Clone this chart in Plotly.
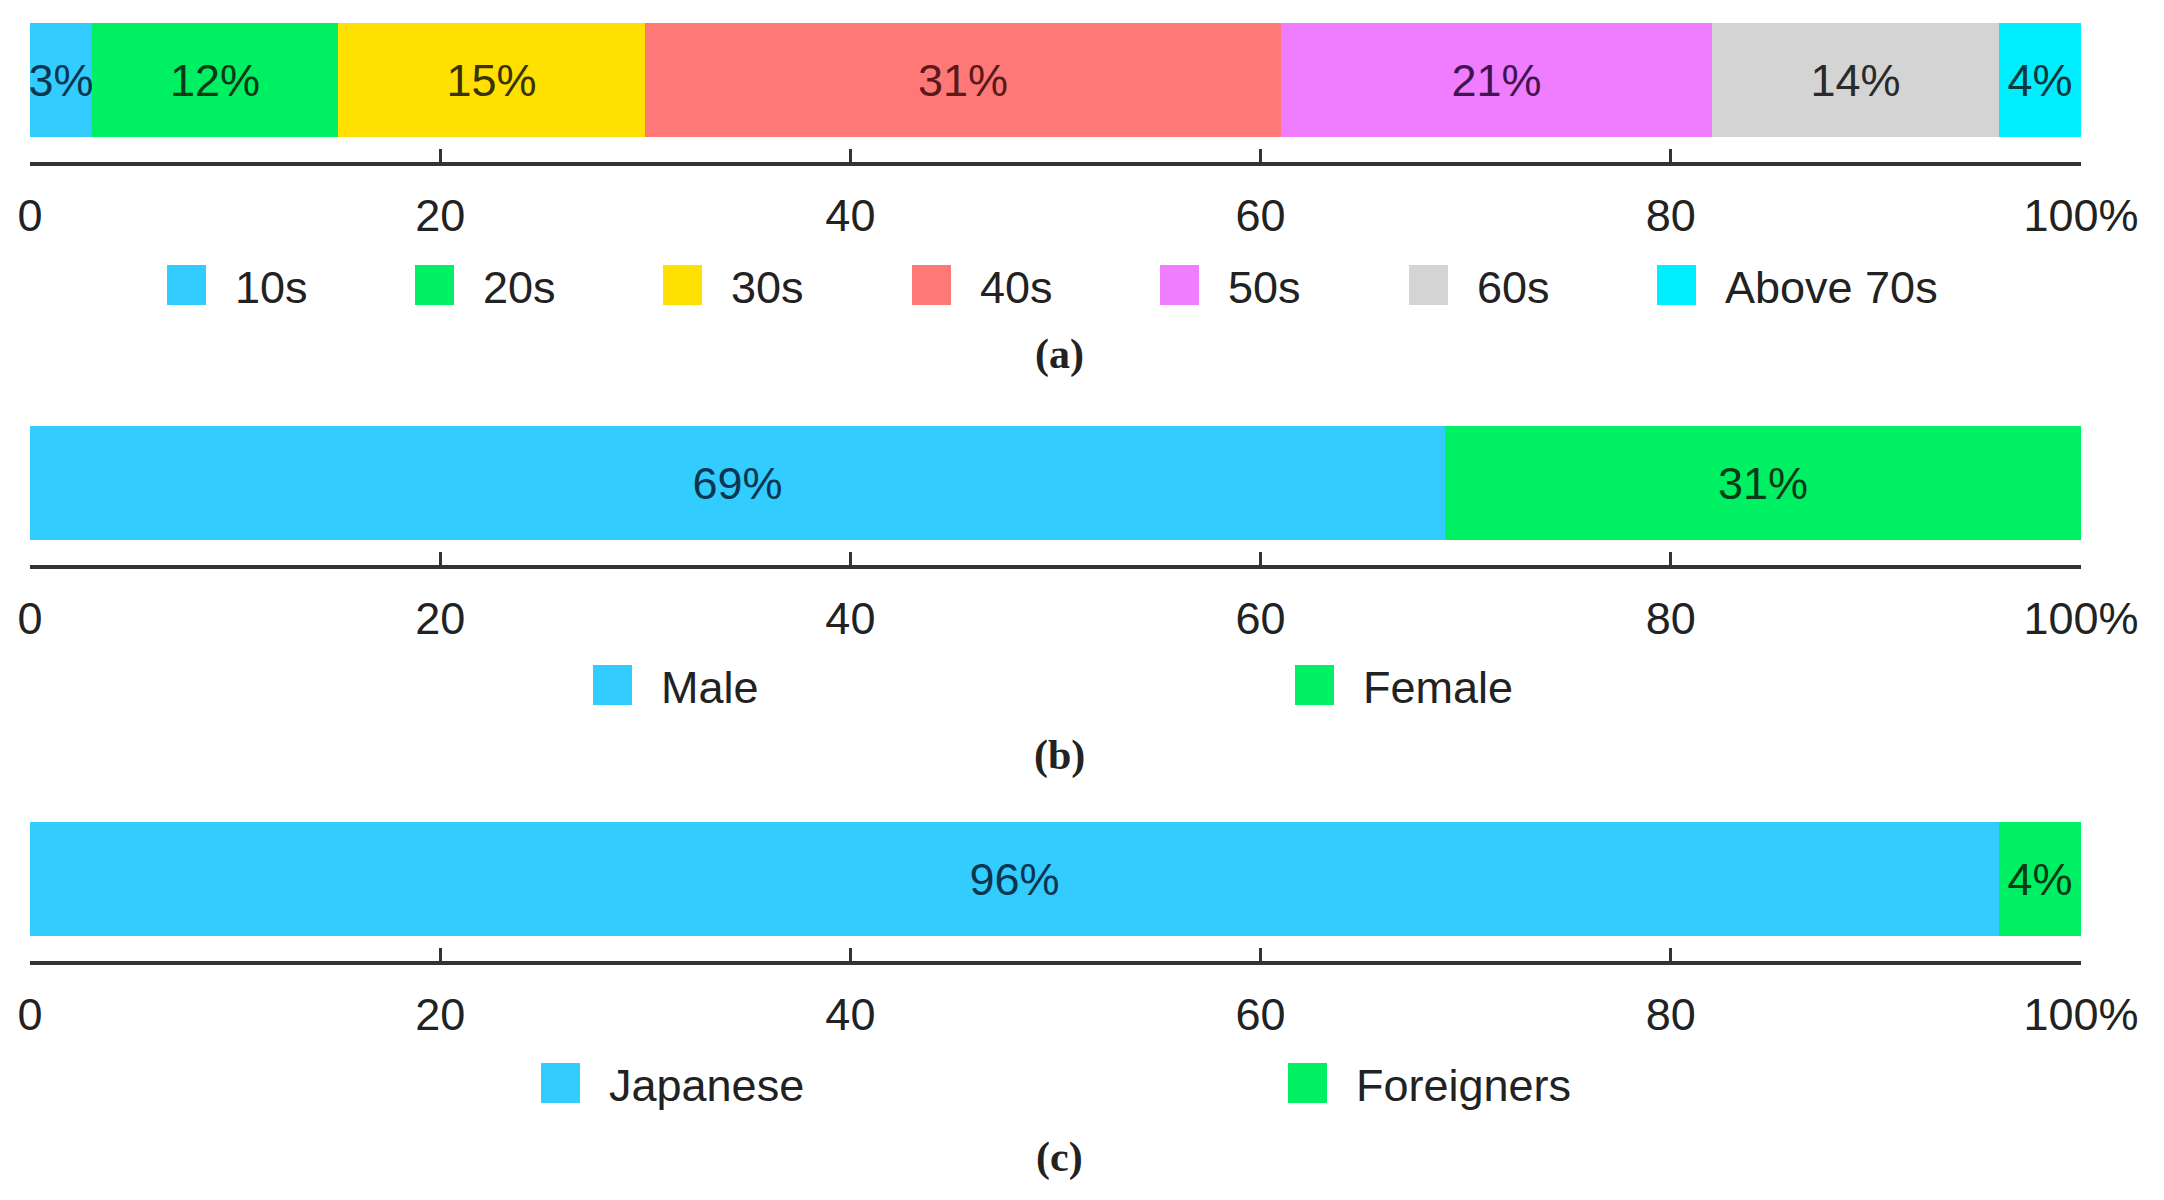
import plotly.graph_objects as go

W, H = 2164, 1200           # browser window
OFF = 8                     # default body margin of the page
FW, FH = W - 2 * OFF, H - 2 * OFF

# ---------------- data ----------------
age_groups = ["10s", "20s", "30s", "40s", "50s", "60s", "Above 70s"]
age_values = [3, 12, 15, 31, 21, 14, 4]
gender_groups = ["Male", "Female"]
gender_values = [69, 31]
nat_groups = ["Japanese", "Foreigners"]
nat_values = [96, 4]
tick_vals = [0, 20, 40, 60, 80, 100]
tick_text = ["0", "20", "40", "60", "80", "100%"]
panel_labels = ["(a)", "(b)", "(c)"]

# ---------------- styles ----------------
age_colors = ["#33CCFF", "#00F064", "#FFE000", "#FF7878", "#F07CFF", "#D4D4D4", "#00EEFF"]
age_text_colors = ["#0B3550", "#0A3A18", "#3A3300", "#5A1A1A", "#3F1550", "#2A2A2A", "#0A3A40"]
two_colors = ["#33CCFF", "#00F064"]
two_text_colors = ["#0B3550", "#0A3A18"]

SANS = "Liberation Sans, Arial, Helvetica, sans-serif"
SERIF = "Liberation Serif, Times New Roman, serif"
FS = 45
AXIS_COLOR = "#333333"

X0_PX, X1_PX = 30, 2081     # screen px of 0 and 100
BAR_H_PX, GAP_PX = 114, 25


def px_x(x):
    return (x - OFF) / FW


def px_y(y):
    return 1 - (y - OFF) / FH


# per panel: bar top px, legend centre y px, legend swatch x px list, label y px
panels = [
    dict(groups=age_groups, values=age_values, colors=age_colors, tcolors=age_text_colors,
         top=23, leg_y=285, leg_x=[167, 415, 663, 912, 1160, 1409, 1657], lab_y=354),
    dict(groups=gender_groups, values=gender_values, colors=two_colors, tcolors=two_text_colors,
         top=426, leg_y=685, leg_x=[593, 1295], lab_y=755),
    dict(groups=nat_groups, values=nat_values, colors=two_colors, tcolors=two_text_colors,
         top=822, leg_y=1083, leg_x=[541, 1288], lab_y=1157),
]

fig = go.Figure()
shapes = []
annotations = []
layout_axes = {}

for i, p in enumerate(panels):
    n = "" if i == 0 else str(i + 1)
    xa, ya = "x" + n, "y" + n
    for g, v, c, tc in zip(p["groups"], p["values"], p["colors"], p["tcolors"]):
        fig.add_trace(go.Bar(
            x=[v], y=[0], orientation="h", name=g, width=1,
            marker=dict(color=c, line=dict(width=0)),
            text=[f"{v}%"], textposition="inside", insidetextanchor="middle",
            textangle=0, constraintext="none",
            textfont=dict(family=SANS, size=FS, color=tc),
            xaxis=xa, yaxis=ya, showlegend=False,
            hovertemplate=g + ": %{x}%<extra></extra>",
        ))
    top = p["top"]
    bottom = top + BAR_H_PX + GAP_PX
    ext = GAP_PX / BAR_H_PX
    layout_axes["xaxis" + n] = dict(
        domain=[px_x(X0_PX), px_x(X1_PX)], range=[0, 100], anchor=ya,
        tickvals=tick_vals, ticktext=tick_text,
        ticks="inside", ticklen=13, tickwidth=2.5, tickcolor=AXIS_COLOR,
        showline=True, linewidth=4, linecolor=AXIS_COLOR,
        showgrid=False, zeroline=False, fixedrange=True, automargin=False,
        tickfont=dict(family=SANS, size=FS, color="#222222"),
        ticklabelstandoff=11,
    )
    layout_axes["yaxis" + n] = dict(
        domain=[px_y(bottom), px_y(top)], range=[-0.5 - ext, 0.5],
        visible=False, fixedrange=True, anchor=xa, automargin=False,
    )
    # legend (manual, large swatches)
    for g, c, lx in zip(p["groups"], p["colors"], p["leg_x"]):
        yc = p["leg_y"]
        shapes.append(dict(type="rect", xref="paper", yref="paper",
                           x0=px_x(lx), x1=px_x(lx + 39),
                           y0=px_y(yc + 20), y1=px_y(yc - 20),
                           fillcolor=c, line=dict(width=0)))
        annotations.append(dict(xref="paper", yref="paper", x=px_x(lx + 66), y=px_y(yc + 2),
                                xanchor="left", yanchor="middle", showarrow=False,
                                text=g, font=dict(family=SANS, size=FS, color="#222222")))
    annotations.append(dict(xref="paper", yref="paper", x=px_x(1059), y=px_y(p["lab_y"]),
                            xanchor="center", yanchor="middle", showarrow=False,
                            text="<b>" + panel_labels[i] + "</b>",
                            font=dict(family=SERIF, size=42, color="#222222")))

fig.update_layout(
    width=FW, height=FH, margin=dict(l=0, r=0, t=0, b=0, autoexpand=False),
    barmode="stack", bargap=0,
    paper_bgcolor="white", plot_bgcolor="white",
    shapes=shapes, annotations=annotations, showlegend=False,
    **layout_axes,
)

fig.write_html("out.html")
